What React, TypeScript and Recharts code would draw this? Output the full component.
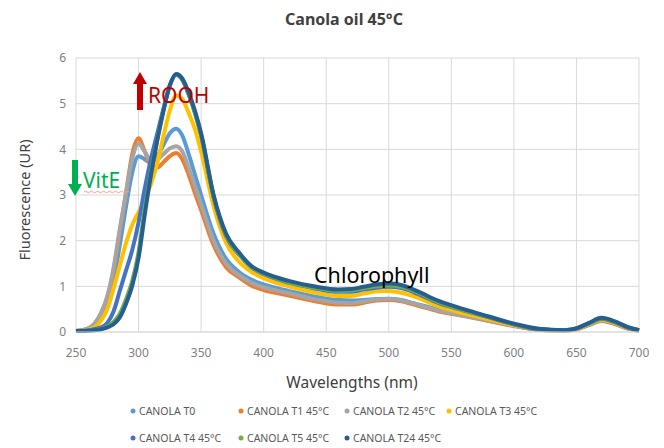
import React from 'react';
import { LineChart, Line, XAxis, YAxis, CartesianGrid } from 'recharts';

const wavelengths = [250, 260, 270, 275, 280, 285, 290, 295, 300, 305, 310, 315, 320, 325, 330, 335, 340, 345, 350, 360, 370, 380, 390, 400, 420, 440, 460, 470, 480, 490, 500, 510, 520, 540, 560, 580, 600, 620, 640, 650, 660, 670, 680, 690, 700];

const t0 = [0.02, 0.06, 0.3, 0.6, 1.1, 1.9, 2.75, 3.5, 3.85, 3.78, 3.7, 3.85, 4.1, 4.35, 4.45, 4.3, 3.9, 3.45, 3.0, 2.15, 1.6, 1.32, 1.15, 1.04, 0.9, 0.78, 0.7, 0.69, 0.7, 0.72, 0.73, 0.7, 0.63, 0.49, 0.37, 0.26, 0.14, 0.05, 0.03, 0.06, 0.16, 0.25, 0.19, 0.09, 0.03];
const t1 = [0.02, 0.08, 0.4, 0.75, 1.35, 2.2, 3.05, 3.9, 4.24, 3.95, 3.65, 3.6, 3.72, 3.85, 3.92, 3.78, 3.45, 3.05, 2.67, 1.9, 1.42, 1.2, 1.02, 0.92, 0.8, 0.68, 0.6, 0.6, 0.64, 0.69, 0.7, 0.67, 0.6, 0.45, 0.35, 0.24, 0.13, 0.05, 0.03, 0.06, 0.15, 0.24, 0.18, 0.08, 0.03];
const t2 = [0.02, 0.08, 0.42, 0.78, 1.4, 2.25, 3.05, 3.8, 4.12, 3.95, 3.75, 3.78, 3.9, 4.02, 4.07, 3.95, 3.6, 3.2, 2.8, 2.0, 1.5, 1.25, 1.08, 0.98, 0.85, 0.72, 0.64, 0.63, 0.67, 0.71, 0.72, 0.69, 0.62, 0.47, 0.36, 0.25, 0.14, 0.05, 0.03, 0.06, 0.16, 0.25, 0.19, 0.09, 0.03];
const t3 = [0.02, 0.05, 0.25, 0.5, 0.95, 1.45, 1.95, 2.35, 2.62, 2.9, 3.25, 3.7, 4.3, 4.85, 5.18, 5.1, 4.8, 4.45, 3.95, 2.75, 1.95, 1.55, 1.32, 1.18, 1.0, 0.87, 0.79, 0.79, 0.84, 0.89, 0.9, 0.86, 0.78, 0.56, 0.41, 0.28, 0.15, 0.06, 0.03, 0.07, 0.18, 0.27, 0.2, 0.1, 0.03];
const t4 = [0.02, 0.04, 0.1, 0.2, 0.45, 0.9, 1.35, 1.8, 2.4, 3.15, 3.8, 4.35, 4.9, 5.4, 5.63, 5.52, 5.2, 4.8, 4.3, 2.95, 2.1, 1.7, 1.42, 1.27, 1.08, 0.96, 0.88, 0.88, 0.93, 0.97, 0.99, 0.96, 0.87, 0.63, 0.47, 0.32, 0.17, 0.06, 0.04, 0.08, 0.19, 0.29, 0.22, 0.11, 0.04];
const t5 = [0.02, 0.03, 0.07, 0.12, 0.22, 0.4, 0.72, 1.12, 1.75, 2.7, 3.5, 4.22, 4.88, 5.4, 5.64, 5.54, 5.22, 4.82, 4.32, 2.97, 2.12, 1.72, 1.43, 1.28, 1.09, 0.97, 0.9, 0.91, 0.96, 1.0, 1.02, 0.99, 0.9, 0.65, 0.48, 0.33, 0.17, 0.06, 0.04, 0.08, 0.19, 0.3, 0.23, 0.11, 0.04];
const t24 = [0.02, 0.03, 0.06, 0.1, 0.17, 0.32, 0.62, 1.02, 1.62, 2.58, 3.45, 4.2, 4.85, 5.4, 5.65, 5.55, 5.25, 4.85, 4.35, 3.0, 2.15, 1.75, 1.45, 1.3, 1.12, 1.0, 0.93, 0.94, 0.99, 1.04, 1.06, 1.03, 0.93, 0.68, 0.5, 0.34, 0.18, 0.07, 0.04, 0.08, 0.2, 0.31, 0.24, 0.12, 0.04];

const xTicks = [250, 300, 350, 400, 450, 500, 550, 600, 650, 700];
const yTicks = [0, 1, 2, 3, 4, 5, 6];

const series = [
  { key: 't0', name: 'CANOLA T0', color: '#5B9BD5', values: t0 },
  { key: 't1', name: 'CANOLA T1 45°C', color: '#ED7D31', values: t1 },
  { key: 't2', name: 'CANOLA T2 45°C', color: '#A5A5A5', values: t2 },
  { key: 't3', name: 'CANOLA T3 45°C', color: '#FFC000', values: t3 },
  { key: 't4', name: 'CANOLA T4 45°C', color: '#4472C4', values: t4 },
  { key: 't5', name: 'CANOLA T5 45°C', color: '#70AD47', values: t5 },
  { key: 't24', name: 'CANOLA T24 45°C', color: '#255E91', values: t24 },
];

const data = wavelengths.map((w, i) => {
  const row: Record<string, number> = { w };
  series.forEach(s => { row[s.key] = s.values[i]; });
  return row;
});

const font = '"Noto Sans", "Open Sans", sans-serif';

// legend item positions, two rows as in the original
const legendPos = [
  { x: 130, y: 404 }, { x: 238, y: 404 }, { x: 344, y: 404 }, { x: 446, y: 404 },
  { x: 130, y: 431 }, { x: 238, y: 431 }, { x: 344, y: 431 },
];

export default function App() {
  return (
    <div style={{ position: 'fixed', left: 0, top: 0, width: 664, height: 448, background: '#fff', fontFamily: font }}>
      <LineChart width={664} height={448} data={data} margin={{ top: 58, right: 25, bottom: 86, left: 0 }}>
        <CartesianGrid stroke="#D9D9D9" strokeWidth={1} />
        <XAxis
          dataKey="w"
          type="number"
          domain={[250, 700]}
          ticks={xTicks}
          height={30}
          axisLine={{ stroke: '#D9D9D9' }}
          tickLine={false}
          tick={{ fill: '#7F7F7F', fontSize: 12, fontFamily: font }}
          tickMargin={10}
        />
        <YAxis
          type="number"
          domain={[0, 6]}
          ticks={yTicks}
          width={76}
          axisLine={false}
          tickLine={false}
          tick={{ fill: '#7F7F7F', fontSize: 12, fontFamily: font }}
          tickMargin={4}
        />
        {series.map(s => (
          <Line
            key={s.key}
            dataKey={s.key}
            name={s.name}
            type="monotone"
            stroke={s.color}
            strokeWidth={4}
            dot={false}
            isAnimationActive={false}
          />
        ))}
      </LineChart>

      <svg width={664} height={448} style={{ position: 'absolute', left: 0, top: 0, pointerEvents: 'none' }}>
        <text x={344} y={25} textAnchor="middle" fontSize={16} fontWeight="bold" fill="#404040" fontFamily={font}>Canola oil 45°C</text>
        <text x={352} y={388} textAnchor="middle" fontSize={15.5} fill="#404040" fontFamily={font}>Wavelengths (nm)</text>
        <text x={30} y={200} textAnchor="middle" fontSize={14.5} fill="#404040" fontFamily={font} transform="rotate(-90 30 200)">Fluorescence (UR)</text>

        {/* ROOH arrow */}
        <rect x={137} y={82} width={6} height={28} fill="#C00000" />
        <polygon points="133,84 140,72 147,84" fill="#C00000" />
        <text x={148} y={103} fontSize={21} fill="#C00000" fontFamily={font}>ROOH</text>

        {/* VitE arrow */}
        <rect x={72} y={160} width={6} height={26} fill="#00B050" />
        <polygon points="68,184 75,196 82,184" fill="#00B050" />
        <text x={83} y={188} fontSize={21} fill="#00B050" fontFamily={font}>VitE</text>
        <path d="M84 192 q1.5 -1.5 3 0 t3 0 t3 0 t3 0 t3 0 t3 0 t3 0 t3 0 t3 0 t3 0 t3 0 t3 0 t3 0 t3 0 t3 0" stroke="#F4A0A0" strokeWidth={1} fill="none" />

        <text x={314} y={283} fontSize={21.5} fill="#000" fontFamily={font}>Chlorophyll</text>

        {series.map((s, i) => (
          <g key={s.key}>
            <circle cx={legendPos[i].x + 3} cy={legendPos[i].y + 7} r={2.5} fill={s.color} />
            <text x={legendPos[i].x + 9} y={legendPos[i].y + 11} fontSize={10.5} fill="#595959" fontFamily={font}>{s.name}</text>
          </g>
        ))}
      </svg>
    </div>
  );
}
